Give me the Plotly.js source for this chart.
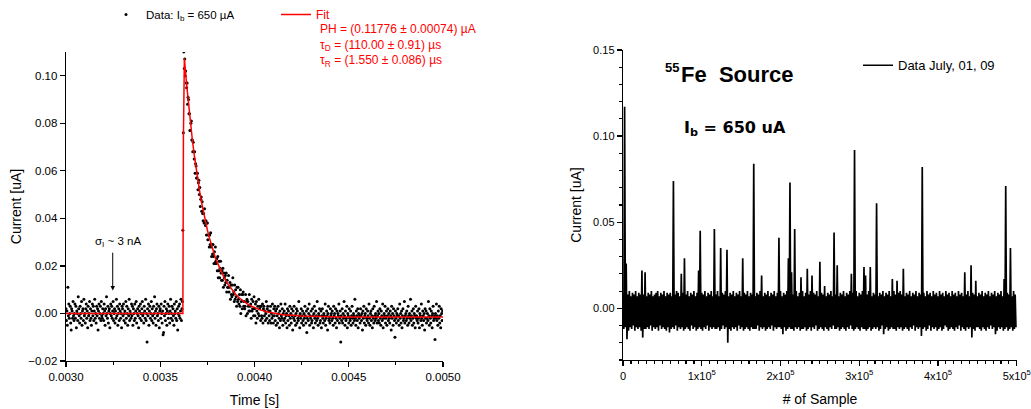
<!DOCTYPE html>
<html>
<head>
<meta charset="utf-8">
<script src="https://cdn.plot.ly/plotly-3.0.1.min.js"></script>
<style>html,body{margin:0;padding:0;background:#fff;}#chart{width:1031px;height:409px;}</style>
</head>
<body>
<div id="chart"></div>
<script>
// ---------- Left panel: single pulse (current in nA, time sampling grid) ----------
const pulseStartTime_s = 0.0030;
const pulseSampleStep_s = 2.5e-6;
const pulseCurrent_nA = [
  // baseline 0.0030 .. 0.0036175 s
  2,-3,1,-5,11,-1,4,-2,0,3,-4,-7,2,1,-2,5,-1,-3,0,4,
  -2,3,-6,1,0,-3,7,2,-1,-4,3,0,-2,5,-5,1,2,-3,6,-1,
  0,-4,2,4,-2,1,-6,3,-1,0,5,-3,2,-2,-5,1,4,-1,3,-3,
  1,6,-2,0,-4,3,-1,2,-7,1,4,-2,0,3,-3,5,-1,-2,2,0,
  -3,4,1,-5,2,-1,7,0,-2,3,-4,1,2,-6,0,4,-1,3,-2,1,
  5,-3,0,2,-4,1,-2,6,-1,3,-5,0,2,-3,4,1,-2,0,-6,3,
  2,-1,4,-3,0,1,-4,5,-2,3,0,-5,2,-1,6,-3,1,0,-2,4,
  -1,3,-5,2,0,-3,4,-2,1,5,-4,0,2,-1,-6,3,1,-2,4,0,
  -3,2,5,-1,0,-4,3,1,-2,6,-3,0,-12,2,-1,4,-5,1,3,-2,
  0,5,-3,2,-1,-4,3,0,7,-2,1,-5,2,4,-1,0,-3,3,-6,1,
  2,-2,4,0,-4,1,-9,-8,3,-1,5,-3,0,2,-5,1,4,-2,0,3,
  -4,1,6,-2,0,3,-3,2,-1,-5,4,0,1,-2,5,-3,2,-7,0,3,
  -1,4,-2,1,6,-3,2,5,
  // rise
  35,76,110,103,
  // decay
  107,100,102,97,95,97,88,91,90,84,84,77,77,80,81,73,73,68,72,68,
  65,68,59,63,62,57,57,59,52,55,56,50,53,45,48,49,43,47,42,39,
  42,38,44,38,37,39,33,38,38,31,33,33,28,33,29,34,28,24,29,25,
  29,24,21,26,21,28,22,21,23,18,24,15,18,22,15,19,22,17,14,18,
  14,19,11,17,15,12,16,13,17,9,14,11,11,16,9,11,13,6,12,8,
  7,12,15,8,9,5,12,6,10,7,3,11,5,11,6,4,8,3,10,0,
  5,8,2,8,9,3,5,2,3,8,-1,5,6,0,5,3,1,8,1,3,
  4,-2,6,1,2,5,-1,7,2,-1,4,-4,5,1,-2,3,0,6,-1,2,
  3,-3,3,-1,-2,4,-4,2,3,-1,1,-3,0,5,-2,2,3,-4,1,-1,
  -3,1,3,-4,0,-2,4,-1,-4,2,-1,3,
  // tail
  -3,1,-5,2,-1,-4,3,0,-2,-6,1,-3,4,-1,-2,2,-5,0,-3,1,
  -2,4,-4,-1,0,-6,2,-3,1,-1,-5,3,-2,0,-4,2,-1,-7,1,-2,
  3,-3,-1,-5,0,2,-4,1,-2,-3,5,-1,-6,0,-2,2,-4,-1,1,-3,
  -5,0,-2,3,-1,-4,1,-8,-2,2,-3,0,4,-5,-1,-2,1,-4,-3,2,
  -1,-6,0,3,-2,-4,1,-1,-3,5,-2,-5,0,-1,2,-4,-3,1,-6,-1,
  2,-2,-4,0,-1,-3,4,-5,-2,1,-1,-7,0,3,-3,-2,-4,2,-1,0,
  -3,1,-2,-5,3,-1,0,-4,2,-2,-6,1,-3,0,-1,4,-4,-2,1,-12,
  -1,-3,2,-4,0,-2,5,-1,-5,1,-3,-2,3,-6,0,-1,-4,2,-2,-3,
  1,-5,-1,3,-2,-4,0,-1,-3,6,-2,-5,1,-1,-3,2,-6,0,-2,-1,
  -4,2,-1,-3,0,-7,1,-2,3,-4,-1,0,-5,2,-2,-3,1,-1,-4,4,
  -2,-5,0,1,-3,-1,-6,2,-2,-4,3,-1,-3,0,-2,5,-4,-1,1,-3,
  0,-4,2,-2,-5,1,-1,-3,4,-6,-2,0,-1,3,-4,-2,1,-5,-1,2,
  -3,0,-2,-4,1,-1,-7,3,-2,0,-5,2,-1,-3,-10,1,-2,-4,0,-1,
  2,-3,-1,-5,4,-2,0,-4,1,-6,-1,2,-3,-2,5,-4,-1,0,-3,1,
  -2,-5,3,-1,-4,0,-2,6,-3,-1,1,-5,-2,2,-4,0,-1,-6,3,-2,
  -1,-3,1,-4,-2,2,-6,0,-1,-3,4,-2,-5,1,-1,-3,0,-7,2,-2,
  1,-4,-2,0,-3,5,-1,-5,2,-2,-4,1,-1,-6,0,3,-3,-2,-1,-11,
  0,-2,4,-3,-1,-5,1,-2,3,-4,-1,-6,2,0,-3,1
];

// Fit curve
const fitTime_s = [0.0030,0.00362,0.003623,0.003626,0.003628,0.00363,0.00364,0.00365,0.00366,0.00367,
  0.00368,0.00369,0.00370,0.00371,0.00372,0.00373,0.00374,0.00375,0.00376,0.00377,
  0.00378,0.00379,0.00380,0.00382,0.00384,0.00386,0.00388,0.00390,0.00392,0.00394,
  0.00396,0.00398,0.00400,0.00403,0.00407,0.00411,0.00415,0.00420,0.00425,0.00435,0.00445,0.00500];
const fitCurrent_nA = [0,0,75,104,107.3,105.4,96.3,87.9,80.3,73.3,
  66.9,61.1,55.7,50.8,46.4,42.3,38.5,35.1,32.0,29.1,
  26.5,24.1,21.9,18.1,14.9,12.2,10.0,8.1,6.5,5.2,
  4.1,3.2,2.4,1.5,0.6,0.0,-0.5,-0.8,-1.1,-1.3,-1.5,-1.5];

// ---------- Right panel: long record ----------
const recordStep_samples = 1000;
const recordCurrent_nA = [
  9,-12,117,-11,26,-18,8,-13,10,-11,7,-12,9,-10,8,-13,10,-11,7,-12,
  9,-11,8,-13,22,-17,8,-12,21,-12,7,-11,9,-12,8,-10,10,-13,7,-11,
  8,-12,9,-11,10,-13,7,-10,9,-12,8,-11,10,-12,7,-13,9,-11,8,-14,
  9,-12,7,-11,74,-12,8,-10,10,-13,9,-11,7,-12,20,-11,9,-13,29,-12,
  8,-11,10,-12,7,-13,9,-10,8,-12,10,-11,7,-13,9,-12,22,-11,45,-12,
  9,-13,8,-11,10,-12,7,-10,9,-13,8,-11,10,-12,7,-11,46,-12,8,-12,
  10,-11,7,-13,35,-12,9,-10,8,-12,10,-11,34,-20,7,-12,9,-13,8,-11,
  10,-12,7,-11,9,-13,8,-10,10,-12,7,-11,29,-13,9,-12,8,-11,10,-12,
  7,-13,9,-11,8,-12,84,-12,7,-12,9,-10,8,-13,10,-11,19,-12,7,-11,
  9,-13,8,-12,10,-11,7,-12,9,-10,8,-13,10,-11,7,-12,9,-11,41,-11,
  10,-12,7,-15,9,-11,8,-13,10,-12,29,-11,73,-12,21,-12,8,-13,46,-11,
  10,-12,7,-11,9,-13,18,-12,10,-12,7,-11,9,-13,23,-12,8,-11,10,-13,
  19,-11,9,-12,8,-10,10,-13,7,-12,27,-11,9,-12,8,-13,13,-11,7,-12,
  9,-13,8,-11,10,-12,7,-10,44,-12,8,-12,25,-11,7,-13,9,-12,8,-11,
  10,-12,7,-13,9,-11,8,-12,10,-10,20,-12,9,-13,92,-12,10,-11,7,-12,
  9,-13,8,-11,10,-12,24,-12,19,-13,8,-12,10,-11,24,-13,7,-12,9,-11,
  8,-12,61,-11,7,-13,9,-12,8,-10,10,-15,7,-12,9,-11,8,-13,10,-12,
  7,-11,17,-12,10,-12,8,-13,16,-11,9,-12,10,-11,8,-13,23,-12,7,-11,
  9,-12,8,-13,10,-11,7,-12,9,-10,8,-13,10,-11,7,-12,9,-11,8,-16,
  82,-12,9,-11,7,-13,10,-12,8,-10,9,-13,7,-11,10,-12,8,-11,9,-13,
  7,-12,10,-11,8,-13,9,-12,7,-10,10,-11,8,-13,9,-12,7,-11,10,-12,
  8,-13,9,-11,7,-12,10,-10,8,-13,9,-11,7,-12,21,-13,8,-11,10,-12,
  7,-11,25,-17,9,-12,8,-13,16,-11,7,-11,9,-12,8,-13,10,-11,7,-12,
  9,-13,8,-11,10,-12,7,-10,9,-12,8,-11,10,-15,7,-13,9,-11,8,-12,
  10,-11,7,-13,17,-12,71,-11,9,-13,8,-12,35,-11,7,-13,10,-12,8,-11
];

const xTickVals = [0, 100000, 200000, 300000, 400000, 500000];
const xTickText = ['0','1x10<sup>5</sup>','2x10<sup>5</sup>','3x10<sup>5</sup>','4x10<sup>5</sup>','5x10<sup>5</sup>'];

// ---------- build traces ----------
const pulseTime = pulseCurrent_nA.map((_, i) => pulseStartTime_s + i * pulseSampleStep_s);
const pulseCurrent = pulseCurrent_nA.map(v => v / 1000);
const fitCurrent = fitCurrent_nA.map(v => v / 1000);
const recordSample = recordCurrent_nA.map((_, i) => i * recordStep_samples);
const recordCurrent = recordCurrent_nA.map(v => v / 1000);

const FONT = 'Liberation Sans, Arial, sans-serif';

const traces = [
  {x: pulseTime, y: pulseCurrent, type: 'scatter', mode: 'markers',
   marker: {color: '#000', size: 3}, name: 'Data: I<sub>b</sub> = 650 µA',
   xaxis: 'x', yaxis: 'y', legend: 'legend'},
  {x: fitTime_s, y: fitCurrent, type: 'scatter', mode: 'lines',
   line: {color: '#ff0000', width: 1.5}, name: 'Fit',
   xaxis: 'x', yaxis: 'y', legend: 'legend2'},
  {x: recordSample, y: recordCurrent, type: 'scatter', mode: 'lines',
   line: {color: '#000', width: 1.7, simplify: false}, name: 'Data July, 01, 09',
   xaxis: 'x2', yaxis: 'y2', legend: 'legend3'}
];

const axisCommon = {
  showline: true, linecolor: '#000', linewidth: 1.3, ticks: 'outside', ticklen: 5,
  tickwidth: 1.3, tickcolor: '#000', showgrid: false, zeroline: false, automargin: false,
  tickfont: {family: FONT, size: 11.5, color: '#000'}
};

const layout = {
  width: 1031, height: 409,
  margin: {l: 0, r: 0, t: 0, b: 0},
  paper_bgcolor: '#fff', plot_bgcolor: '#fff',
  font: {family: FONT, color: '#000'},
  xaxis: Object.assign({}, axisCommon, {
    domain: [0.064, 0.4297], range: [0.003, 0.005], anchor: 'y',
    tick0: 0.003, dtick: 0.0005, tickformat: '.4f',
    minor: {tick0: 0.003, dtick: 0.00025, ticks: 'outside', ticklen: 3, tickwidth: 1.2, tickcolor: '#000'},
    title: {text: 'Time [s]', font: {family: FONT, size: 14}, standoff: 13}
  }),
  yaxis: Object.assign({}, axisCommon, {
    domain: [0.1174, 0.8729], range: [-0.02, 0.11], anchor: 'x',
    tick0: 0, dtick: 0.02, tickformat: '.2f',
    title: {text: 'Current [uA]', font: {family: FONT, size: 14}, standoff: 3}
  }),
  xaxis2: Object.assign({}, axisCommon, {
    domain: [0.6043, 0.9864], range: [0, 500300], anchor: 'y2',
    tickmode: 'array', tickvals: xTickVals, ticktext: xTickText,
    minor: {tickmode: 'linear', tick0: 0, dtick: 10000, ticks: 'outside', ticklen: 3, tickwidth: 1.2, tickcolor: '#000'},
    tickfont: {family: FONT, size: 11, color: '#000'},
    title: {text: '# of Sample', font: {family: FONT, size: 14}, standoff: 13}
  }),
  yaxis2: Object.assign({}, axisCommon, {
    domain: [0.1198, 0.8778], range: [-0.03, 0.15], anchor: 'x2',
    tick0: 0, dtick: 0.05, tickformat: '.2f',
    minor: {tick0: 0, dtick: 0.01, ticks: 'outside', ticklen: 3, tickwidth: 1.2, tickcolor: '#000'},
    tickfont: {family: FONT, size: 11, color: '#000'},
    title: {text: 'Current [uA]', font: {family: FONT, size: 14}, standoff: 8}
  }),
  showlegend: true,
  legend: {x: 0.1028, y: 1.0, xanchor: 'left', yanchor: 'top', bgcolor: 'rgba(0,0,0,0)',
           font: {family: FONT, size: 11.5, color: '#000'}},
  legend2: {x: 0.2677, y: 1.0, xanchor: 'left', yanchor: 'top', bgcolor: 'rgba(0,0,0,0)',
            font: {family: FONT, size: 12, color: '#ff0000'}},
  legend3: {x: 0.8322, y: 0.877, xanchor: 'left', yanchor: 'top', bgcolor: 'rgba(0,0,0,0)',
            font: {family: FONT, size: 13, color: '#000'}},
  annotations: [
    {xref: 'paper', yref: 'paper', x: 0.3085, y: 0.95, xanchor: 'left', yanchor: 'top', align: 'left',
     showarrow: false, font: {family: FONT, size: 12, color: '#ff0000'},
     text: 'PH = (0.11776 ± 0.00074) µA<br>τ<sub>D</sub> = (110.00 ± 0.91) µs<br>τ<sub>R</sub> = (1.550 ± 0.086) µs'},
    {xref: 'x', yref: 'y', x: 0.003276, y: 0.0299, showarrow: false,
     font: {family: FONT, size: 11.5, color: '#000'}, text: 'σ<sub>I</sub> ~ 3 nA'},
    {xref: 'x', yref: 'y', x: 0.003248, y: 0.0097, axref: 'x', ayref: 'y', ax: 0.003248, ay: 0.0262,
     text: '', showarrow: true, arrowhead: 2, arrowsize: 0.9, arrowwidth: 1, arrowcolor: '#000'},
    {xref: 'paper', yref: 'paper', x: 663/1031, y: 1 - 67/409, xanchor: 'left', yanchor: 'middle', showarrow: false,
     font: {family: FONT, size: 13, color: '#000'}, text: '<b>55</b>'},
    {xref: 'paper', yref: 'paper', x: 679/1031, y: 1 - 74/409, xanchor: 'left', yanchor: 'middle', showarrow: false,
     font: {family: FONT, size: 22, color: '#000'}, text: '<b>Fe  Source</b>'},
    {xref: 'paper', yref: 'paper', x: 682/1031, y: 1 - 128/409, xanchor: 'left', yanchor: 'middle', showarrow: false,
     font: {family: 'DejaVu Sans, sans-serif', size: 16, color: '#000'}, text: '<b>I<sub>b</sub> = 650 uA</b>'}
  ]
};

Plotly.newPlot('chart', traces, layout, {staticPlot: true, displayModeBar: false});
</script>
</body>
</html>
